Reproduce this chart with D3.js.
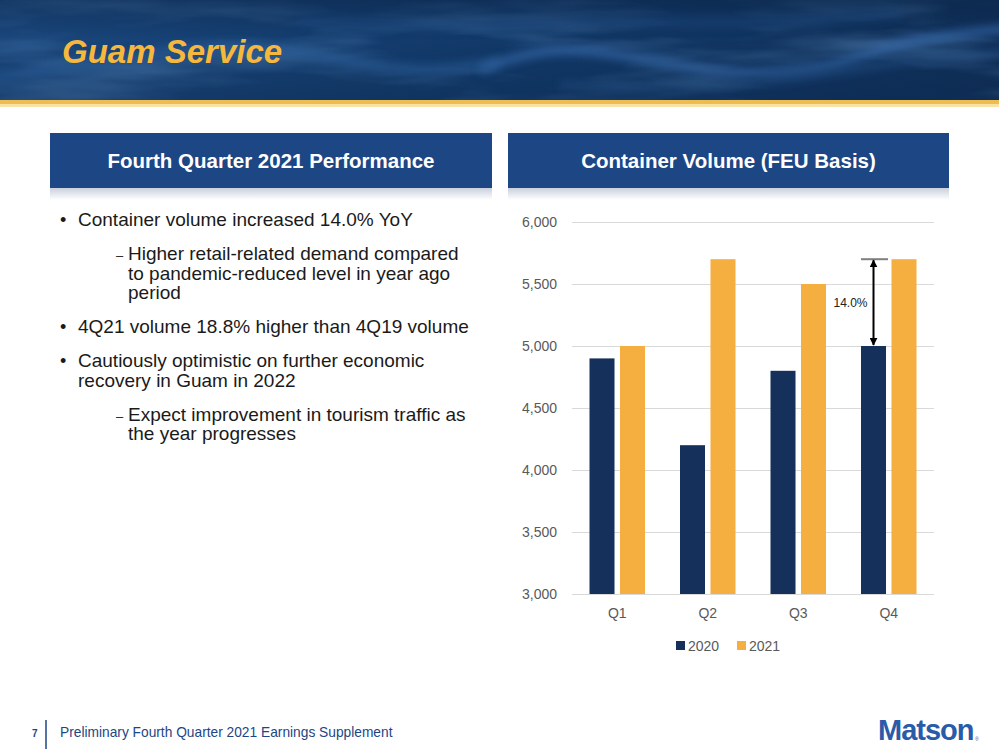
<!DOCTYPE html>
<html>
<head>
<meta charset="utf-8">
<script src="https://cdn.jsdelivr.net/npm/d3@7"></script>
<style>
  body { margin: 0; background: #fff; }
  svg { display: block; font-family: "Liberation Sans", Arial, sans-serif; }
</style>
</head>
<body>
<svg width="999" height="750"></svg>
<script>
// chart data
const quarters = ["Q1", "Q2", "Q3", "Q4"];
const years = ["2020", "2021"];
const vol2020 = [4900, 4200, 4800, 5000];
const vol2021 = [5000, 5700, 5500, 5700];
const yTicks = [3000, 3500, 4000, 4500, 5000, 5500, 6000];
const yoyLabel = "14.0%";

const bullets = [
    {level: 0, lines: ["Container volume increased 14.0% YoY"]},
    {level: 1, lines: ["Higher retail-related demand compared", "to pandemic-reduced level in year ago", "period"]},
    {level: 0, lines: ["4Q21 volume 18.8% higher than 4Q19 volume"]},
    {level: 0, lines: ["Cautiously optimistic on further economic", "recovery in Guam in 2022"]},
    {level: 1, lines: ["Expect improvement in tourism traffic as", "the year progresses"]}
];

const svg = d3.select("svg");
const defs = svg.append("defs");

// ---- header banner (ocean-ish texture) ----
const bg = defs.append("linearGradient").attr("id", "bannerGrad").attr("x1", 0).attr("x2", 1);
bg.append("stop").attr("offset", "0%").attr("stop-color", "#1a477d");
bg.append("stop").attr("offset", "45%").attr("stop-color", "#123a6a");
bg.append("stop").attr("offset", "100%").attr("stop-color", "#0f2f58");

const turb = defs.append("filter").attr("id", "waves")
    .attr("x", 0).attr("y", 0).attr("width", 1).attr("height", 1);
turb.append("feTurbulence")
    .attr("type", "fractalNoise")
    .attr("baseFrequency", "0.004 0.025")
    .attr("numOctaves", 4)
    .attr("seed", 7);
turb.append("feColorMatrix")
    .attr("type", "matrix")
    .attr("values", "0 0 0 0 0.2  0 0 0 0 0.42  0 0 0 0 0.75  1.6 0 0 0 -0.75");

defs.append("filter").attr("id", "soft").attr("x", -0.2).attr("y", -1).attr("width", 1.4).attr("height", 3)
    .append("feGaussianBlur").attr("stdDeviation", 4);

const banner = svg.append("g");
banner.append("rect").attr("width", 999).attr("height", 101).attr("fill", "url(#bannerGrad)");
banner.append("rect").attr("width", 999).attr("height", 101)
    .attr("filter", "url(#waves)").attr("opacity", 0.6);

// a few blurred wave crests
const crest = d3.line().curve(d3.curveBasis);
const crests = [
    {pts: [[-20, 80], [120, 60], [220, 42], [320, 55], [420, 75], [500, 62]], w: 10, c: "#2c5f9c", o: 0.7},
    {pts: [[480, 70], [550, 44], [640, 58], [740, 78], [840, 66], [900, 40], [1010, 28]], w: 9, c: "#3468a8", o: 0.8},
    {pts: [[560, 85], [680, 88], [800, 80], [900, 60], [1010, 52]], w: 6, c: "#2b5b96", o: 0.6},
    {pts: [[300, 20], [450, 28], [600, 18], [750, 25], [900, 12]], w: 12, c: "#1f4c84", o: 0.6}
];
crests.forEach(cr => {
    banner.append("path").attr("d", crest(cr.pts))
        .attr("fill", "none").attr("stroke", cr.c).attr("stroke-width", cr.w)
        .attr("opacity", cr.o).attr("filter", "url(#soft)");
});

const shade = defs.append("linearGradient").attr("id", "bannerShade").attr("x1", 0).attr("x2", 0).attr("y1", 0).attr("y2", 1);
shade.append("stop").attr("offset", "0%").attr("stop-color", "#0a2447").attr("stop-opacity", 0.5);
shade.append("stop").attr("offset", "40%").attr("stop-color", "#0a2447").attr("stop-opacity", 0);
shade.append("stop").attr("offset", "100%").attr("stop-color", "#0a2447").attr("stop-opacity", 0.3);
banner.append("rect").attr("width", 999).attr("height", 101).attr("fill", "url(#bannerShade)");

// gold rule under the banner
svg.append("rect").attr("y", 100).attr("width", 999).attr("height", 4).attr("fill", "#edbd52");
svg.append("rect").attr("y", 104).attr("width", 999).attr("height", 3).attr("fill", "#f9e2a6");

svg.append("text")
    .attr("x", 62).attr("y", 63)
    .attr("fill", "#f6b83c")
    .style("font-size", "33px")
    .style("font-weight", "bold")
    .style("font-style", "italic")
    .text("Guam Service");

// ---- panel headers ----
const boxShade = defs.append("linearGradient").attr("id", "boxShade").attr("x1", 0).attr("x2", 0).attr("y1", 0).attr("y2", 1);
boxShade.append("stop").attr("offset", "0%").attr("stop-color", "#c9d0dc");
boxShade.append("stop").attr("offset", "100%").attr("stop-color", "#ffffff");

const panels = [
    {x: 50, w: 442, title: "Fourth Quarter 2021 Performance"},
    {x: 508, w: 441, title: "Container Volume (FEU Basis)"}
];
panels.forEach(p => {
    svg.append("rect").attr("x", p.x).attr("y", 188).attr("width", p.w).attr("height", 12).attr("fill", "url(#boxShade)");
    svg.append("rect").attr("x", p.x).attr("y", 133).attr("width", p.w).attr("height", 55).attr("fill", "#1d4685");
    svg.append("text")
        .attr("x", p.x + p.w / 2).attr("y", 168)
        .attr("text-anchor", "middle")
        .attr("fill", "#fff")
        .style("font-size", "20.5px")
        .style("font-weight", "bold")
        .text(p.title);
});

// ---- bullet text ----
const lineStep = 19.5;
let by = 226;
bullets.forEach(b => {
    const textX = b.level === 0 ? 78 : 128;
    if (b.level === 0) {
        svg.append("text").attr("x", 60).attr("y", by).attr("fill", "#1a1a1a")
            .style("font-size", "18px").text("\u2022");
    } else {
        svg.append("text").attr("x", 116).attr("y", by).attr("fill", "#1a1a1a")
            .style("font-size", "13px").text("\u2013");
    }
    // one text element per bullet, lines as tspans (tight PowerPoint spacing)
    svg.append("text").attr("y", by)
        .attr("fill", "#1a1a1a")
        .style("font-size", "19px")
        .selectAll("tspan")
        .data(b.lines)
        .join("tspan")
        .attr("x", textX)
        .attr("dy", (d, j) => j === 0 ? 0 : lineStep)
        .text(d => d);
    by += (b.lines.length - 1) * lineStep + 34;
});

// ---- bar chart ----
const chart = {left: 572, right: 934, top: 222, bottom: 594};

const x0 = d3.scaleBand().domain(quarters).range([chart.left, chart.right]).padding(0);
const x1 = d3.scaleBand().domain(years)
    .range([17.5, x0.bandwidth() - 17.5]).paddingInner(0.18);
const y = d3.scaleLinear().domain([3000, 6000]).range([chart.bottom, chart.top]);
const color = d3.scaleOrdinal().domain(years).range(["#15305a", "#f5ae40"]);

const data = quarters.map((q, i) => ({q, values: [
    {year: "2020", v: vol2020[i]},
    {year: "2021", v: vol2021[i]}
]}));

// gridlines + y labels
svg.append("g")
    .attr("transform", `translate(${chart.left},0)`)
    .call(d3.axisLeft(y).tickValues(yTicks).tickSize(-(chart.right - chart.left)).tickPadding(15).tickFormat(d3.format(",")))
    .call(g => g.select(".domain").remove())
    .call(g => g.selectAll(".tick line").attr("stroke", "#d9d9d9"))
    .call(g => g.selectAll(".tick text")
        .attr("fill", "#595959")
        .style("font-size", "14px")
        .style("font-family", "'Liberation Sans', Arial, sans-serif"));

// bars
svg.append("g").selectAll("g")
    .data(data)
    .join("g")
    .attr("transform", d => `translate(${x0(d.q)},0)`)
    .selectAll("rect")
    .data(d => d.values)
    .join("rect")
    .attr("x", d => x1(d.year))
    .attr("y", d => y(d.v))
    .attr("width", x1.bandwidth())
    .attr("height", d => y(3000) - y(d.v))
    .attr("fill", d => color(d.year));

// x labels
svg.append("g")
    .attr("transform", `translate(0,${chart.bottom})`)
    .call(d3.axisBottom(x0).tickSize(0).tickPadding(14))
    .call(g => g.select(".domain").remove())
    .call(g => g.selectAll(".tick text")
        .attr("fill", "#595959")
        .style("font-size", "14px")
        .style("font-family", "'Liberation Sans', Arial, sans-serif"));

// legend
const legend = svg.append("g").attr("transform", "translate(676,641)");
years.forEach((yr, i) => {
    const lg = legend.append("g").attr("transform", `translate(${i * 61},0)`);
    lg.append("rect").attr("width", 9).attr("height", 9).attr("fill", color(yr));
    lg.append("text").attr("x", 12).attr("y", 10)
        .attr("fill", "#595959")
        .style("font-size", "14px")
        .text(yr);
});

// YoY annotation on Q4
defs.append("marker").attr("id", "arrowHead")
    .attr("viewBox", "0 0 10 10").attr("refX", 9).attr("refY", 5)
    .attr("markerWidth", 4).attr("markerHeight", 4).attr("orient", "auto-start-reverse")
    .append("path").attr("d", "M0,0L10,5L0,10z").attr("fill", "#000");

const q4 = quarters.length - 1;
const ax = x0("Q4") + x1("2020") + x1.bandwidth() / 2;
svg.append("line")
    .attr("x1", x0("Q4") + x1("2020")).attr("x2", x0("Q4") + x1("2020") + x1.bandwidth() + 2)
    .attr("y1", y(vol2021[q4])).attr("y2", y(vol2021[q4]))
    .attr("stroke", "#7f7f7f").attr("stroke-width", 2);
svg.append("line")
    .attr("x1", ax).attr("x2", ax)
    .attr("y1", y(vol2021[q4]) + 1).attr("y2", y(vol2020[q4]) - 1)
    .attr("stroke", "#000").attr("stroke-width", 2)
    .attr("marker-start", "url(#arrowHead)")
    .attr("marker-end", "url(#arrowHead)");
svg.append("text")
    .attr("x", ax - 6).attr("y", (y(vol2021[q4]) + y(vol2020[q4])) / 2 + 4)
    .attr("text-anchor", "end")
    .attr("fill", "#222")
    .style("font-size", "12px")
    .text(yoyLabel);

// ---- footer ----
svg.append("text").attr("x", 32).attr("y", 737).attr("fill", "#1d4685")
    .style("font-size", "10px").style("font-weight", "bold").text("7");
svg.append("line").attr("x1", 46).attr("x2", 46).attr("y1", 720).attr("y2", 749)
    .attr("stroke", "#1d4685").attr("stroke-width", 1.5);
svg.append("text").attr("x", 60).attr("y", 737).attr("fill", "#1d4685")
    .style("font-size", "13.75px").text("Preliminary Fourth Quarter 2021 Earnings Supplement");
svg.append("text").attr("x", 878).attr("y", 740).attr("fill", "#2a5ba8")
    .style("font-size", "29px").style("font-weight", "bold").style("letter-spacing", "-1px")
    .text("Matson");
svg.append("text").attr("x", 975).attr("y", 741).attr("fill", "#2a5ba8")
    .style("font-size", "5px").text("\u00ae");
</script>
</body>
</html>
